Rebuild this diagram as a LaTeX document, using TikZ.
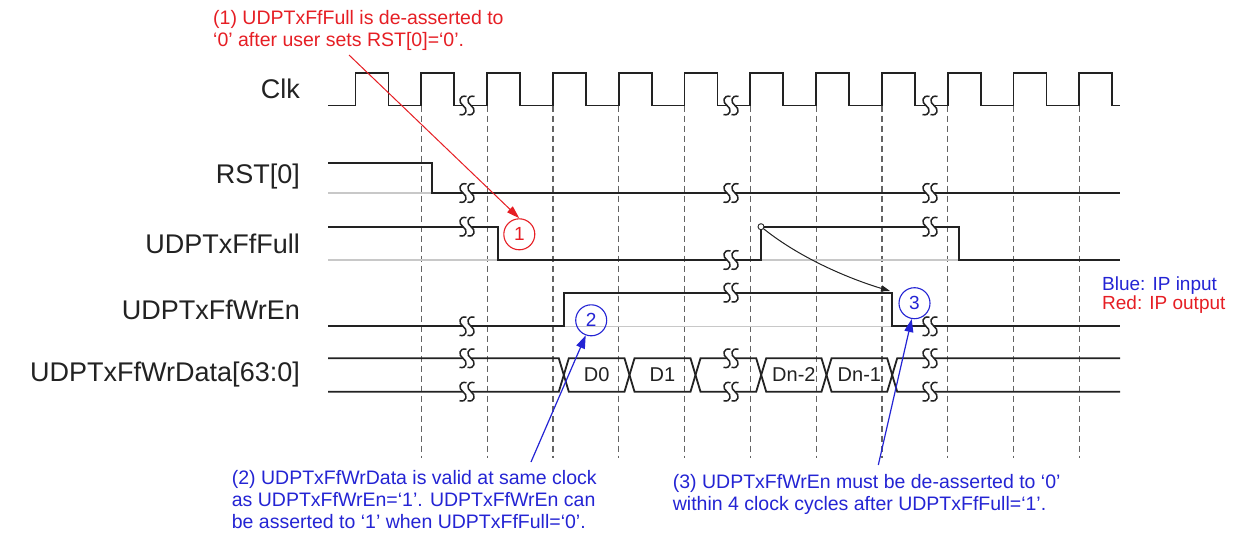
\documentclass[tikz,border=0pt]{standalone}
\usepackage{fontspec}
\setmainfont{Liberation Sans}
\usetikzlibrary{arrows.meta}
\definecolor{annred}{RGB}{230,30,36}
\definecolor{annblue}{RGB}{36,36,212}
\definecolor{sig}{RGB}{34,34,34}
\definecolor{refgray}{RGB}{200,200,200}
\definecolor{dashgray}{RGB}{100,100,100}
\begin{document}
\begin{tikzpicture}[x=1pt,y=-1pt,
  sigline/.style={draw=sig, line width=1.8pt, line join=miter},
  refline/.style={draw=refgray, line width=1.4pt},
  gridline/.style={draw=dashgray, line width=1.2pt, dash pattern=on 6pt off 4pt},
  siglabel/.style={font=\fontsize{27}{30}\selectfont, text=sig, anchor=base east, inner sep=0pt},
  busdata/.style={font=\fontsize{20}{22}\selectfont, text=sig, inner sep=0pt},
  annot/.style={font=\fontsize{19.5}{22}\selectfont, align=left, anchor=base west, inner sep=0pt},
  numcirc/.style={circle, line width=1.1pt, minimum size=31pt, inner sep=0pt, font=\fontsize{19}{22}\selectfont},
  brk/.pic={
    \fill[white] (-4,-4) rectangle (4,4);
    \draw[sig, line width=1.5pt] (-0.5,-9) .. controls (-8,-11) and (-9,-3) .. (-4,0) .. controls (1,3) and (0,11) .. (-7.5,9);
    \draw[sig, line width=1.5pt] (7.5,-9) .. controls (0,-11) and (-1,-3) .. (4,0) .. controls (9,3) and (8,11) .. (0.5,9);
  }
]
\fill[white] (0,0) rectangle (1234,535);
\useasboundingbox (0,0) rectangle (1234,535);

% grid lines at rising clock edges
\foreach \r in {421.3,487.1,552.9,618.7,684.5,750.3,816.1,881.9,947.7,1013.5,1079.3}
  \draw[gridline] (\r,105.5) -- (\r,458);

% reference (low level) lines
\draw[refline] (328,193) -- (1120,193);
\draw[refline] (328,260) -- (1120,260);
\draw[refline] (328,326.3) -- (1120,326.3);

% Clk
\draw[sigline] (328,105.5) foreach \r in {355.5,421.3,487.1,552.9,618.7,684.5,750.3,816.1,881.9,947.7,1013.5,1079.3}
  { -- (\r,105.5) -- (\r,72.7) -- ({\r+32.9},72.7) -- ({\r+32.9},105.5) } -- (1120,105.5);

% RST[0]
\draw[sigline] (328,162.7) -- (432.3,162.7) -- (432.3,193) -- (1120,193);

% UDPTxFfFull
\draw[sigline] (328,226.7) -- (498,226.7) -- (498,260) -- (761,260) -- (761,226.7) -- (959,226.7) -- (959,260) -- (1120,260);

% UDPTxFfWrEn
\draw[sigline] (328,326.3) -- (564,326.3) -- (564,292.7) -- (892.2,292.7) -- (892.2,326.3) -- (1120,326.3);

% UDPTxFfWrData bus
\draw[sigline] (328,358.3) -- (558.8,358.3) -- (563.8,375) -- (558.8,391.7) -- (328,391.7);
\foreach \a/\b in {563.8/629.5,629.5/695.5,695.5/761.2,761.2/826.5,826.5/892.2}
  \draw[sigline] (\a,375) -- ({\a+5},358.3) -- ({\b-5},358.3) -- (\b,375) -- ({\b-5},391.7) -- ({\a+5},391.7) -- cycle;
\draw[sigline] (1120,358.3) -- (897.2,358.3) -- (892.2,375) -- (897.2,391.7) -- (1120,391.7);

\node[busdata] (d0) at (596.7,375) {D0};
\node[busdata] (d1) at (662.5,375) {D1};
\node[busdata] (dn2) at (793.9,375) {Dn-2};
\node[busdata] (dn1) at (859.4,375) {Dn-1};

% breaks
\foreach \x in {467,731,930} {
  \pic at (\x,105.5) {brk};
  \pic at (\x,193) {brk};
  \pic at (\x,358.3) {brk};
  \pic at (\x,391.7) {brk};
}
\pic at (467,226.7) {brk};
\pic at (731,260) {brk};
\pic at (930,226.7) {brk};
\pic at (467,326.3) {brk};
\pic at (731,292.7) {brk};
\pic at (930,326.3) {brk};

% signal labels
\node[siglabel] (lclk) at (300,98.3) {Clk};
\node[siglabel] (lrst) at (300,183.3) {RST[0]};
\node[siglabel] (lfull) at (300,253.3) {UDPTxFfFull};
\node[siglabel] (lwren) at (300,319) {UDPTxFfWrEn};
\node[siglabel] (ldata) at (300,381.7) {UDPTxFfWrData[63:0]};

% numbered markers
\node[numcirc, draw=annred, text=annred] (c1) at (519.3,234.3) {1};
\node[numcirc, draw=annblue, text=annblue] (c2) at (591.2,320.3) {2};
\node[numcirc, draw=annblue, text=annblue] (c3) at (914.5,303.2) {3};

% full -> wren dependency
\node[circle, draw=sig, fill=white, line width=0.9pt, minimum size=6pt, inner sep=0pt] (fr) at (761,226.7) {};
\coordinate (wrfall) at (890,291);
\draw[sig, line width=1pt, -{Triangle[length=9pt,width=6pt]}] (fr) .. controls (801,258.7) and (850,279) .. (wrfall);

% annotation texts (anchor = baseline of last line)
\node[annot, text=annred] (t1) at (213,47) {(1) UDPTxFfFull is de-asserted to\\‘0’ after user sets RST[0]=‘0’.};
\node[annot, text=annblue] (t2) at (231.7,528) {(2) UDPTxFfWrData is valid at same clock\\as UDPTxFfWrEn=‘1’. UDPTxFfWrEn can\\be asserted to ‘1’ when UDPTxFfFull=‘0’.};
\node[annot, text=annblue] (t3) at (672.7,510) {(3) UDPTxFfWrEn must be de-asserted to ‘0’\\within 4 clock cycles after UDPTxFfFull=‘1’.};
\node[annot, font=\fontsize{19}{19.5}\selectfont] (leg) at (1102,309.5) {\textcolor{annblue}{Blue: IP input}\\\textcolor{annred}{Red: IP output}};

% annotation arrows
\coordinate (a1s) at (349,55);
\coordinate (a2s) at (531,462);
\coordinate (a3s) at (878.3,465);
\draw[annred, line width=1pt, -{Triangle[length=13pt,width=8pt]}] (a1s) -- (c1.north);
\draw[annblue, line width=1.2pt, -{Triangle[length=13pt,width=9pt]}] (a2s) -- (c2.-110);
\draw[annblue, line width=1.2pt, -{Triangle[length=13pt,width=9pt]}] (a3s) -- (c3.-100);
\end{tikzpicture}
\end{document}
